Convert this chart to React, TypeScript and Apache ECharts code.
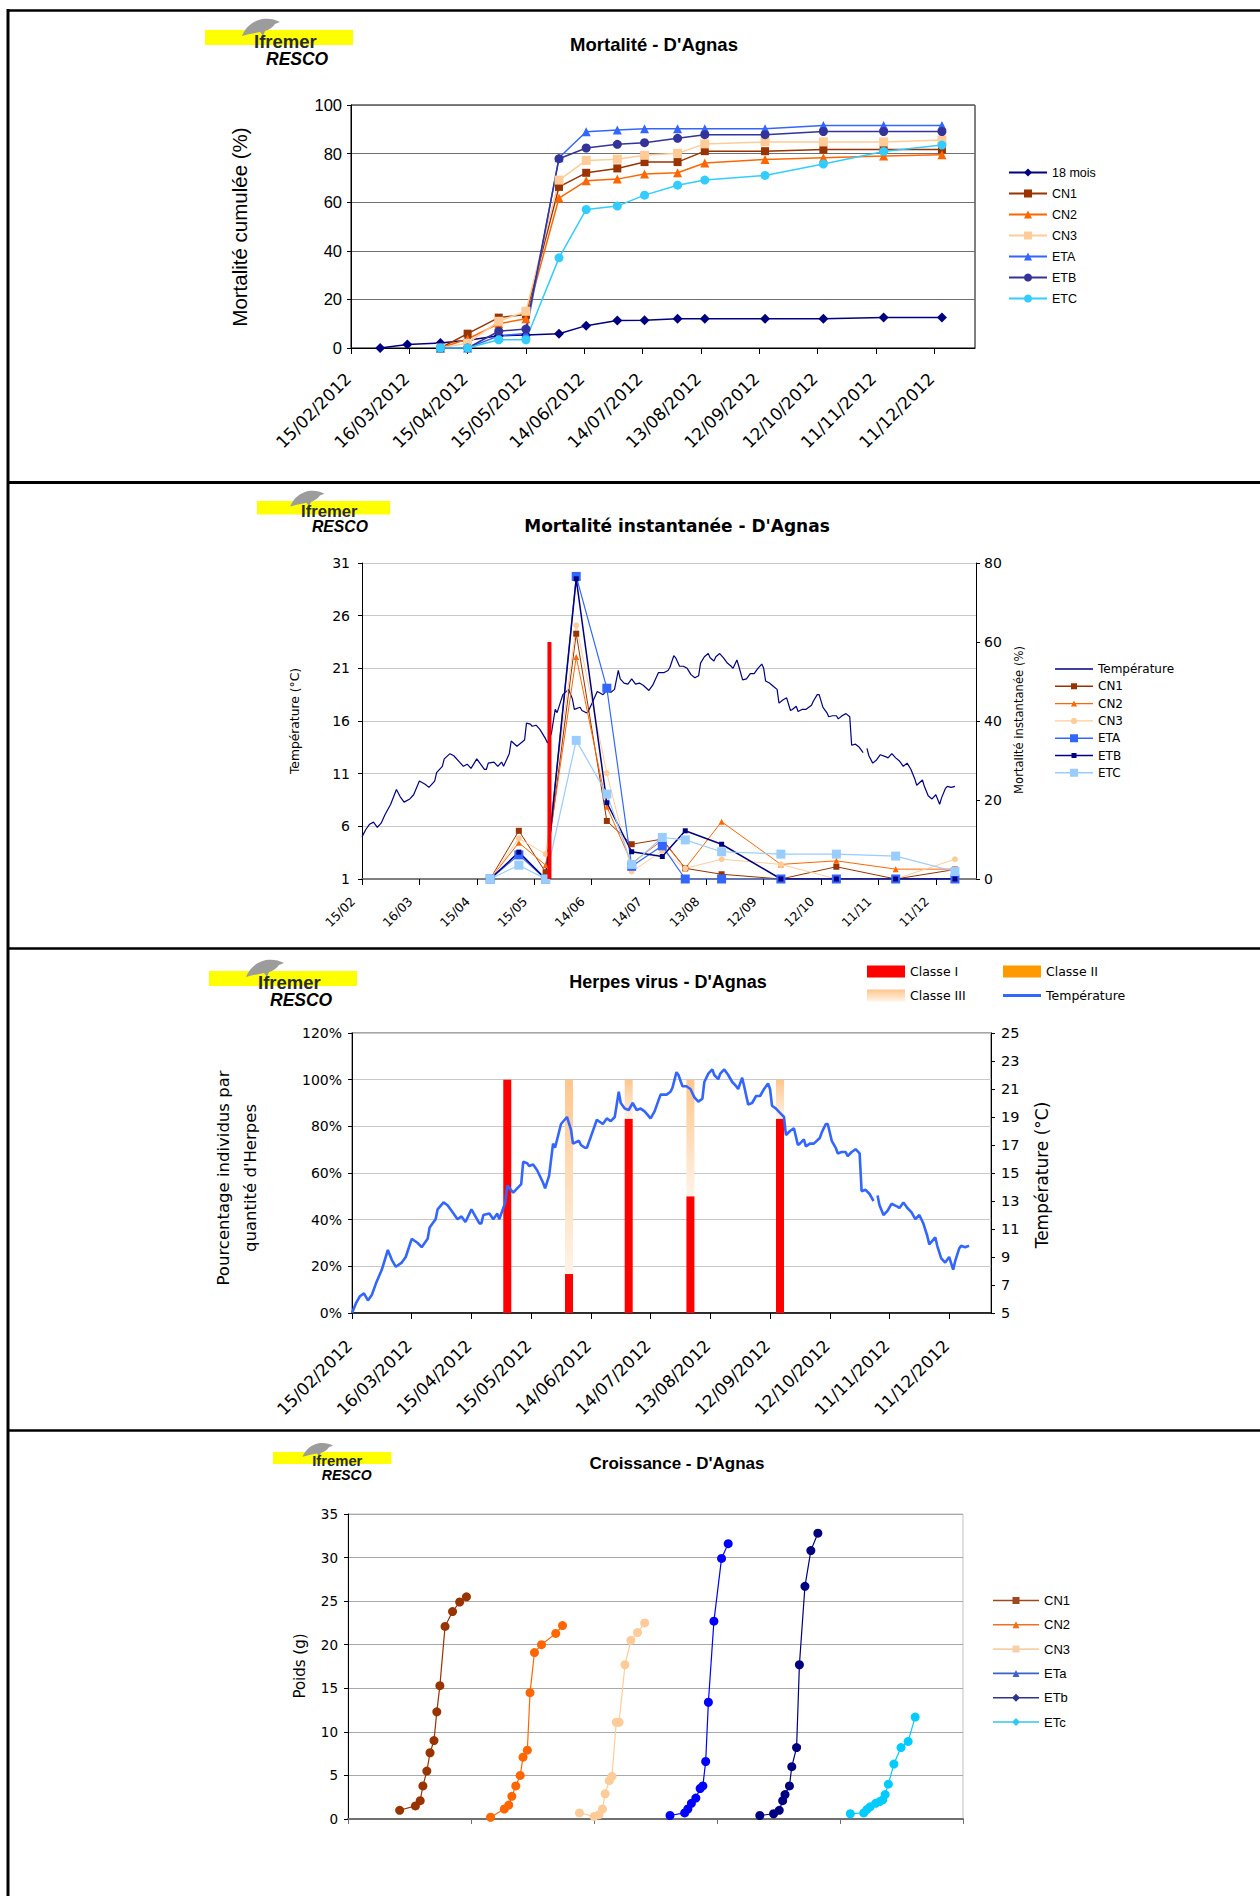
import { useEffect, useRef } from 'react';
import * as echarts from 'echarts';

// ---------------- data ----------------
// Panel 1 : mortalité cumulée (%)
const cumDates18 = ['01/03/2012', '15/03/2012', '01/04/2012', '15/04/2012', '01/05/2012', '15/05/2012', '01/06/2012', '15/06/2012', '01/07/2012', '15/07/2012', '01/08/2012', '15/08/2012', '15/09/2012', '15/10/2012', '15/11/2012', '15/12/2012'];
const cumDates = ['01/04/2012', '15/04/2012', '01/05/2012', '15/05/2012', '01/06/2012', '15/06/2012', '01/07/2012', '15/07/2012', '01/08/2012', '15/08/2012', '15/09/2012', '15/10/2012', '15/11/2012', '15/12/2012'];
const cum18mois = [0, 1.4, 2.1, 3.2, 5.0, 5.4, 5.9, 9.2, 11.3, 11.4, 12.0, 12.0, 12.0, 12.0, 12.6, 12.6];
const cumCN1 = [0, 5.9, 12.5, 13.8, 66.3, 72.1, 73.9, 76.5, 76.5, 81.0, 81.0, 81.7, 81.7, 81.7];
const cumCN2 = [0, 3.7, 10.0, 12.0, 61.7, 68.8, 69.5, 71.6, 72.1, 76.1, 77.6, 78.3, 79.0, 79.5];
const cumCN3 = [0, 2.0, 11.0, 15.1, 69.1, 77.2, 77.7, 79.3, 80.1, 84.0, 84.8, 84.8, 84.8, 85.6];
const cumETA = [0, 0, 5.0, 6.0, 78.3, 89.0, 89.7, 90.2, 90.2, 90.2, 90.2, 91.6, 91.6, 91.6];
const cumETB = [0, 0, 6.9, 7.8, 77.9, 82.3, 83.8, 84.5, 86.3, 87.8, 87.8, 89.1, 89.1, 89.1];
const cumETC = [0, 0, 3.4, 3.4, 37.1, 57.0, 58.4, 62.9, 67.0, 69.1, 71.0, 75.7, 80.9, 83.5];

// Panel 2 : mortalité instantanée (%)
const instDates = ['22/04/2012', '07/05/2012', '21/05/2012', '06/06/2012', '22/06/2012', '05/07/2012', '21/07/2012', '02/08/2012', '21/08/2012', '21/09/2012', '20/10/2012', '20/11/2012', '21/12/2012'];
const instCN1 = [0, 12.2, 1.7, 62.1, 14.7, 8.8, 10.1, 2.7, 1.2, 0, 3.1, 0, 2.4];
const instCN2 = [0, 9.2, 3.5, 56.2, 18.3, 4.0, 9.8, 2.7, 14.5, 3.7, 4.6, 2.5, 2.5];
const instCN3 = [0, 10.3, 6.3, 64.2, 26.8, 1.9, 7.1, 2.7, 5.0, 3.7, 0, 0, 5.0];
const instETA = [0, 6.1, 0, 76.6, 48.3, 3.2, 8.4, 0, 0, 0, 0, 0, 0];
const instETB = [0, 6.8, 0, 76.0, 19.3, 6.9, 5.7, 12.2, 8.8, 0, 0, 0, 0];
const instETC = [0, 3.5, 0, 35.1, 21.5, 3.7, 10.5, 9.9, 6.9, 6.3, 6.3, 5.8, 1.9];
const alertDates = ['23/05/2012'];
const alertValues = [60];

// Temperature (°C), day offsets from 15/02/2012
const tempDays = [0, 2, 4, 6, 8, 10, 12, 15, 18, 20, 22, 25, 27, 30, 33, 35, 38, 39, 42, 43, 46, 48, 51, 53, 55, 57, 60, 62, 64, 65, 66, 69, 71, 73, 74, 77, 78, 81, 85, 86, 88, 89, 91, 93, 96, 97, 99, 101, 102, 105, 108, 110, 111, 114, 115, 117, 118, 120, 123, 124, 126, 128, 130, 132, 134, 135, 137, 139, 141, 143, 145, 147, 150, 152, 155, 158, 160, 161, 163, 164, 166, 168, 170, 172, 174, 176, 177, 179, 181, 182, 184, 185, 187, 189, 191, 193, 194, 196, 197, 199, 201, 203, 205, 207, 209, 210, 211, 213, 215, 217, 218, 220, 222, 224, 225, 227, 228, 230, 232, 235, 236, 238, 239, 241, 243, 244, 246, 248, 249, 251, 253, 255, 256, 258, 260, 262, 263, 264, 265, 267, 269, 271, 274, 275, 277, 279, 281, 283, 285, 287, 289, 290, 293, 294, 296, 298, 300, 302, 303, 305, 306, 308, 310];
const tempValues = [5.0, 5.7, 6.2, 6.4, 5.9, 6.3, 7.1, 8.1, 9.5, 8.8, 8.3, 8.6, 9.0, 10.3, 10.0, 9.7, 10.3, 11.1, 11.7, 12.4, 12.9, 12.7, 12.1, 11.7, 11.9, 11.5, 12.4, 11.9, 11.4, 11.4, 12.0, 12.1, 11.7, 12.1, 11.7, 12.9, 14.1, 13.6, 14.2, 15.8, 15.7, 15.5, 15.6, 15.2, 14.3, 13.9, 14.8, 17.1, 16.8, 18.5, 19.0, 18.1, 17.1, 17.3, 17.0, 16.8, 16.8, 17.6, 18.8, 18.7, 18.5, 18.9, 18.7, 19.0, 20.8, 20.0, 19.6, 19.5, 20.0, 19.5, 19.6, 19.4, 18.9, 19.4, 20.6, 20.6, 20.8, 21.1, 22.2, 22.0, 21.2, 21.2, 21.0, 20.4, 20.1, 20.3, 21.5, 22.1, 22.4, 22.0, 21.7, 22.1, 22.4, 22.0, 21.5, 21.2, 21.0, 21.8, 21.2, 19.9, 20.0, 20.5, 20.5, 21.0, 21.4, 21.0, 19.8, 19.6, 19.3, 19.0, 17.7, 18.0, 18.2, 17.0, 17.1, 17.4, 16.9, 17.1, 17.1, 17.5, 17.9, 18.5, 18.5, 17.3, 16.8, 16.4, 16.5, 16.5, 16.2, 16.5, 16.7, 16.4, 13.7, 13.8, 13.5, 13.0, null, 13.4, 12.7, 12.0, 12.3, 12.8, 12.6, 12.5, 12.9, 12.5, 12.2, 11.7, 12.0, 11.4, 10.5, 9.9, 10.4, 9.8, 8.9, 8.6, 9.0, 8.1, 8.7, 9.6, 9.8, 9.7, 9.8];

// Panel 3 : herpes (% individus)
const herpesDates = ['03/05/2012', '03/06/2012', '03/07/2012', '03/08/2012', '17/09/2012'];
const classeI = [100, 16.7, 83.3, 50, 83.3];
const classeII = [0, 0, 0, 0, 0];
const classeIII = [0, 83.3, 16.7, 50, 16.7];

// Panel 4 : croissance (poids g)
const grCN1x = [0.42, 0.548, 0.587, 0.609, 0.641, 0.667, 0.699, 0.722, 0.747, 0.789, 0.85, 0.908, 0.963];
const grCN1y = [1.0, 1.5, 2.1, 3.8, 5.5, 7.6, 9.0, 12.3, 15.3, 22.1, 23.8, 24.9, 25.5];
const grCN2x = [1.159, 1.271, 1.307, 1.332, 1.364, 1.4, 1.423, 1.458, 1.48, 1.516, 1.573, 1.689, 1.744];
const grCN2y = [0.2, 1.15, 1.6, 2.6, 3.8, 5.0, 7.1, 7.9, 14.5, 19.1, 20.0, 21.3, 22.2];
const grCN3x = [1.882, 2.001, 2.04, 2.069, 2.091, 2.124, 2.146, 2.181, 2.204, 2.252, 2.3, 2.354, 2.412];
const grCN3y = [0.7, 0.3, 0.5, 1.15, 2.9, 4.4, 4.9, 11.1, 11.1, 17.7, 20.5, 21.4, 22.5];
const grETax = [2.618, 2.737, 2.763, 2.792, 2.828, 2.863, 2.885, 2.908, 2.93, 2.975, 3.037, 3.091];
const grETay = [0.4, 0.7, 1.15, 1.8, 2.4, 3.5, 3.8, 6.6, 13.4, 22.7, 29.9, 31.6];
const grETbx = [3.348, 3.46, 3.506, 3.534, 3.553, 3.589, 3.608, 3.647, 3.67, 3.715, 3.763, 3.82];
const grETby = [0.4, 0.6, 1.0, 2.1, 2.8, 3.8, 6.0, 8.2, 17.7, 26.7, 30.8, 32.8];
const grETcx = [4.084, 4.193, 4.219, 4.245, 4.29, 4.322, 4.348, 4.367, 4.393, 4.438, 4.496, 4.554, 4.611];
const grETcy = [0.6, 0.7, 1.1, 1.4, 1.8, 2.0, 2.2, 2.8, 4.0, 6.3, 8.2, 8.9, 11.7];

// ---------------- helpers ----------------
const START = Date.UTC(2012, 1, 15);
const DAY = 86400000;
function dayOf(s: string) {
  const [d, m, y] = s.split('/').map(Number);
  return Math.round((Date.UTC(y, m - 1, d) - START) / DAY);
}
function fmtDate(v: number, withYear: boolean) {
  const dt = new Date(START + v * DAY);
  const dd = String(dt.getUTCDate()).padStart(2, '0');
  const mm = String(dt.getUTCMonth() + 1).padStart(2, '0');
  return withYear ? `${dd}/${mm}/${dt.getUTCFullYear()}` : `${dd}/${mm}`;
}
const pairs = (dates: string[], vals: number[]) => dates.map((d, i) => [dayOf(d), vals[i]]);
// value first, date second (so that stacking is done on the value dimension)
const pairsVY = (dates: string[], vals: number[]) => dates.map((d, i) => [vals[i], dayOf(d)]);
const xy = (xs: number[], ys: number[]) => xs.map((x, i) => [x, ys[i]]);
const tempData = tempDays.map((d, i) => [d, tempValues[i] == null ? '-' : tempValues[i]]);

const AR = 'Liberation Sans, Arial, Helvetica, sans-serif';
const DJ = 'DejaVu Sans, Verdana, sans-serif';

function legendIcon(marker: string, s: number, lw: number, W = 38, H = 10) {
  const c = H / 2;
  const m = W / 2;
  let p = `path://M0,0L0.01,0L0,0.01Z M${W},${H}L${W - 0.01},${H}L${W},${H - 0.01}Z M0,${c - lw / 2}H${W}V${c + lw / 2}H0Z`;
  const h = s / 2;
  if (marker === 'square') p += ` M${m - h},${c - h}H${m + h}V${c + h}H${m - h}Z`;
  if (marker === 'tri') p += ` M${m},${c - h}L${m + h},${c + h}L${m - h},${c + h}Z`;
  if (marker === 'diamond') p += ` M${m},${c - h}L${m + h},${c}L${m},${c + h}L${m - h},${c}Z`;
  if (marker === 'circle') {
    const k = h * 0.414;
    p += ` M${m - k},${c - h}L${m + k},${c - h}L${m + h},${c - k}L${m + h},${c + k}L${m + k},${c + h}L${m - k},${c + h}L${m - h},${c + k}L${m - h},${c - k}Z`;
  }
  return p;
}

const DOLPHIN = 'M37,6 C40,-2 47,-9 57,-11 C63,-12 70,-11 75,-8 L70,-6 C68,-3 64,0 60,1 L58,6 L55,2 C50,3 44,4 37,6 Z';
let registered = false;
function ensureShape() {
  if (registered) return;
  registered = true;
  echarts.graphic.registerShape('dolphin', echarts.graphic.extendPath(DOLPHIN, {}));
}

function logo(ox: number, oy: number, s: number): any[] {
  return [
    { type: 'rect', shape: { x: ox, y: oy, width: 148 * s, height: 15 * s }, style: { fill: '#FFFF00' }, z: 10 },
    { type: 'dolphin', x: ox, y: oy, scaleX: s, scaleY: s, style: { fill: '#9C9C9C' }, z: 11 },
    { type: 'text', x: ox + 49 * s, y: oy + 11.5 * s, z: 12, style: { text: 'Ifremer', font: `bold ${18.5 * s}px ${AR}`, fill: '#2a2a2a', align: 'left', verticalAlign: 'middle', textAlign: 'left', textVerticalAlign: 'middle' } },
    { type: 'text', x: ox + 61 * s, y: oy + 28.5 * s, z: 12, style: { text: 'RESCO', font: `italic bold ${17.5 * s}px ${AR}`, fill: '#000000', align: 'left', verticalAlign: 'middle', textAlign: 'left', textVerticalAlign: 'middle' } },
  ];
}
function txt(text: string, x: number, y: number, font: string, rotate = 0): any {
  return { type: 'text', x, y, rotation: rotate, z: 12, style: { text, font, fill: '#000', align: 'center', verticalAlign: 'middle', textAlign: 'center', textVerticalAlign: 'middle' } };
}
function hline(y: number, w: number): any {
  return { type: 'line', shape: { x1: 7, y1: y, x2: 1260, y2: y }, style: { stroke: '#000', lineWidth: w }, z: 20 };
}

const black = { color: '#000' };

function buildOption(): any {
  const dateAxis = (grid: number, withYear: boolean, fontSize: number, margin: number, lineColor: string, lineWidth: number, padRight = 0) => ({
    type: 'value', gridIndex: grid, min: 0, max: 321, interval: 30,
    axisLine: { show: true, onZero: false, lineStyle: { color: lineColor, width: lineWidth } },
    axisTick: { show: true, length: 6, lineStyle: black },
    splitLine: { show: false },
    axisLabel: {
      rotate: 45, margin, fontSize, fontFamily: DJ, color: '#000', showMaxLabel: false,
      padding: [0, padRight, 0, 0],
      formatter: (v: number) => (v % 30 === 0 ? fmtDate(v, withYear) : ''),
    },
  });
  const valAxis = (grid: number, min: number, max: number, interval: number, font: number, fam: string, margin: number, split: string | null, extra: any = {}) => ({
    type: 'value', gridIndex: grid, min, max, interval,
    axisLine: { show: true, onZero: false, lineStyle: { color: '#000', width: 1 } },
    axisTick: { show: true, length: 4, lineStyle: black },
    axisLabel: { fontSize: font, fontFamily: fam, color: '#000', margin },
    splitLine: split ? { show: true, lineStyle: { color: split, width: 1 } } : { show: false },
    ...extra,
  });

  const cumLine = (name: string, dates: string[], vals: number[], color: string, symbol: string, size: number) => ({
    type: 'line', name, xAxisIndex: 0, yAxisIndex: 0, data: pairs(dates, vals), symbol, symbolSize: size,
    lineStyle: { color, width: 1.5 }, itemStyle: { color }, z: 3,
  });
  const instLine = (name: string, vals: number[], color: string, symbol: string, size: number, lw: number, z = 3) => ({
    type: 'line', name, xAxisIndex: 1, yAxisIndex: 2, data: pairs(instDates, vals), symbol, symbolSize: size,
    lineStyle: { color, width: lw }, itemStyle: { color }, z,
  });
  const grLine = (name: string, xs: number[], ys: number[], color: string) => ({
    type: 'line', name, xAxisIndex: 3, yAxisIndex: 5, data: xy(xs, ys), symbol: 'circle', symbolSize: 9,
    lineStyle: { color, width: 1.2 }, itemStyle: { color }, z: 3,
  });
  const herpesBar = (name: string, vals: number[], color: any) => ({
    type: 'bar', name, xAxisIndex: 2, yAxisIndex: 3, stack: 'herpes', barWidth: 8,
    encode: { x: 1, y: 0 }, data: pairsVY(herpesDates, vals), itemStyle: { color }, z: 2,
  });
  const gradIII = new echarts.graphic.LinearGradient(0, 0, 0, 1, [
    { offset: 0, color: '#FFC68C' },
    { offset: 1, color: '#FFF3E8' },
  ]);

  const leg2 = (name: string, marker: string, s: number, color: string) => ({
    name, icon: legendIcon(marker, s, 1.4), itemStyle: { color, borderWidth: 0 },
  });
  const leg3Text = { fontSize: 12.5, fontFamily: DJ, color: '#000' };

  return {
    animation: false,
    backgroundColor: '#fff',
    grid: [
      { left: 351, top: 105, width: 624, height: 243, show: true, borderColor: '#000', borderWidth: 1, outerBoundsMode: 'none' },
      { left: 362, top: 563, width: 614, height: 316, outerBoundsMode: 'none' },
      { left: 352, top: 1033, width: 639, height: 280, show: true, borderColor: '#8a8a8a', borderWidth: 1.5, outerBoundsMode: 'none' },
      { left: 348, top: 1514, width: 615, height: 305, show: true, borderColor: '#c0c0c0', borderWidth: 1, outerBoundsMode: 'none' },
    ],
    xAxis: [
      dateAxis(0, true, 17, 25, '#000', 1, 4),
      dateAxis(1, false, 12.5, 11, '#808080', 2, 13),
      dateAxis(2, true, 17, 27, '#000', 1.5, 4),
      {
        type: 'value', gridIndex: 3, min: 0, max: 5, interval: 1,
        axisLine: { show: true, onZero: false, lineStyle: { color: '#707070', width: 2 } },
        axisTick: { show: true, length: 5, lineStyle: { color: '#707070' } },
        axisLabel: { show: false }, splitLine: { show: false },
      },
    ],
    yAxis: [
      valAxis(0, 0, 100, 20, 16.5, AR, 9, '#707070'),
      valAxis(1, 1, 31, 5, 14, DJ, 12, '#c8c8c8'),
      valAxis(1, 0, 80, 20, 14, DJ, 8, null, { position: 'right' }),
      valAxis(2, 0, 120, 20, 14, DJ, 10, '#c8c8c8', { axisLabel: { fontSize: 14, fontFamily: DJ, color: '#000', margin: 10, formatter: '{value}%' } }),
      valAxis(2, 5, 25, 2, 14.5, DJ, 10, null, { position: 'right' }),
      valAxis(3, 0, 35, 5, 13.5, DJ, 10, '#a8a8a8'),
    ],
    legend: [
      {
        orient: 'vertical', left: 1003, top: 161, itemWidth: 38, itemHeight: 10, itemGap: 8, selectedMode: false,
        data: ['18 mois', 'CN1', 'CN2', 'CN3', 'ETA', 'ETB', 'ETC'],
        textStyle: { fontSize: 12.5, fontFamily: AR, color: '#000' },
      },
      {
        orient: 'vertical', left: 1050, top: 658, itemWidth: 38, itemHeight: 10, itemGap: 5.3, selectedMode: false,
        data: [
          leg2('Température', 'none', 0, '#000080'),
          leg2('CN1', 'square', 6, '#993300'),
          leg2('CN2', 'tri', 6, '#FF6600'),
          leg2('CN3', 'circle', 6, '#FFCC99'),
          leg2('ETA', 'square', 8, '#3366FF'),
          leg2('ETB', 'square', 5, '#000080'),
          leg2('ETC', 'square', 8, '#99CCFF'),
        ],
        textStyle: { fontSize: 12, fontFamily: DJ, color: '#000' },
      },
      { left: 862, top: 960, itemWidth: 38, itemHeight: 12, selectedMode: false, data: [{ name: 'Classe I', icon: 'rect' }], textStyle: leg3Text },
      { left: 998, top: 960, itemWidth: 38, itemHeight: 12, selectedMode: false, data: [{ name: 'Classe II', icon: 'rect' }], textStyle: leg3Text },
      { left: 862, top: 984, itemWidth: 38, itemHeight: 12, selectedMode: false, data: [{ name: 'Classe III', icon: 'rect' }], textStyle: leg3Text },
      {
        left: 998, top: 984, itemWidth: 38, itemHeight: 12, selectedMode: false,
        data: [{ name: 'Température', icon: legendIcon('none', 0, 3, 38, 12), itemStyle: { color: '#3366FF', borderWidth: 0 } }],
        textStyle: leg3Text,
      },
      {
        orient: 'vertical', left: 988, top: 1589, itemWidth: 46, itemHeight: 10, itemGap: 11.3, selectedMode: false,
        data: [
          { name: 'CN1', icon: legendIcon('square', 7, 1.6, 46, 10), itemStyle: { color: '#9E4A1E', borderWidth: 0 } },
          { name: 'CN2', icon: legendIcon('tri', 7, 1.6, 46, 10), itemStyle: { color: '#F07020', borderWidth: 0 } },
          { name: 'CN3', icon: legendIcon('square', 7, 1.6, 46, 10), itemStyle: { color: '#F8D0A8', borderWidth: 0 } },
          { name: 'ETa', icon: legendIcon('tri', 7, 1.6, 46, 10), itemStyle: { color: '#3D62C8', borderWidth: 0 } },
          { name: 'ETb', icon: legendIcon('diamond', 8, 1.6, 46, 10), itemStyle: { color: '#2E3588', borderWidth: 0 } },
          { name: 'ETc', icon: legendIcon('diamond', 8, 1.6, 46, 10), itemStyle: { color: '#33C8F0', borderWidth: 0 } },
        ],
        textStyle: { fontSize: 13, fontFamily: AR, color: '#000' },
      },
    ],
    series: [
      // panel 1
      cumLine('18 mois', cumDates18, cum18mois, '#000080', 'diamond', 10),
      cumLine('CN1', cumDates, cumCN1, '#993300', 'rect', 8),
      cumLine('CN2', cumDates, cumCN2, '#FF6600', 'triangle', 9),
      cumLine('CN3', cumDates, cumCN3, '#FFCC99', 'rect', 9),
      cumLine('ETA', cumDates, cumETA, '#3366FF', 'triangle', 9),
      cumLine('ETB', cumDates, cumETB, '#333399', 'circle', 9),
      cumLine('ETC', cumDates, cumETC, '#33CCFF', 'circle', 9),
      // panel 2
      {
        type: 'line', name: 'Température', xAxisIndex: 1, yAxisIndex: 1, data: tempData, symbol: 'none',
        lineStyle: { color: '#000080', width: 1.2 }, itemStyle: { color: '#000080' }, z: 2,
      },
      instLine('CN1', instCN1, '#993300', 'rect', 6, 1),
      instLine('CN2', instCN2, '#FF6600', 'triangle', 6, 1),
      instLine('CN3', instCN3, '#FFCC99', 'circle', 6, 1),
      instLine('ETA', instETA, '#3366FF', 'rect', 9, 1.2),
      instLine('ETB', instETB, '#000080', 'rect', 5, 1.5),
      instLine('ETC', instETC, '#99CCFF', 'rect', 9, 1.2),
      {
        type: 'bar', name: 'Alerte herpès', xAxisIndex: 1, yAxisIndex: 2, data: pairs(alertDates, alertValues), barWidth: 4,
        itemStyle: { color: '#FF0000' }, z: 5,
      },
      // panel 3
      herpesBar('Classe I', classeI, '#FF0000'),
      herpesBar('Classe II', classeII, '#FF9900'),
      herpesBar('Classe III', classeIII, gradIII),
      {
        type: 'line', name: 'Température', xAxisIndex: 2, yAxisIndex: 4, data: tempData, symbol: 'none',
        lineStyle: { color: '#3366FF', width: 2.6 }, itemStyle: { color: '#3366FF' }, z: 5,
      },
      // panel 4
      grLine('CN1', grCN1x, grCN1y, '#993300'),
      grLine('CN2', grCN2x, grCN2y, '#FF6600'),
      grLine('CN3', grCN3x, grCN3y, '#FFCC99'),
      grLine('ETa', grETax, grETay, '#0000FF'),
      grLine('ETb', grETbx, grETby, '#000080'),
      grLine('ETc', grETcx, grETcy, '#00CCFF'),
    ],
    graphic: {
      elements: [
        { type: 'line', shape: { x1: 8, y1: 9, x2: 8, y2: 1896 }, style: { stroke: '#000', lineWidth: 3 }, z: 20 },
        hline(10.5, 2.5),
        hline(482.5, 3),
        hline(948.5, 2.5),
        hline(1430.5, 2.5),
        ...logo(205, 30, 1),
        ...logo(257, 501, 0.9),
        ...logo(209, 971, 1),
        ...logo(273, 1452, 0.8),
        txt('Mortalité - D\'Agnas', 654, 44, `bold 18.5px ${AR}`),
        txt('Mortalité instantanée - D\'Agnas', 677, 526, `bold 17px ${DJ}`),
        txt('Herpes virus - D\'Agnas', 668, 982, `bold 18px ${AR}`),
        txt('Croissance - D\'Agnas', 677, 1463, `bold 17px ${AR}`),
        txt('Mortalité cumulée (%)', 239, 227, `20.5px ${AR}`, Math.PI / 2),
        txt('Température (°C)', 295, 721, `12.3px ${DJ}`, Math.PI / 2),
        txt('Mortalité instantanée (%)', 1019, 720, `11.6px ${DJ}`, Math.PI / 2),
        txt('Pourcentage individus par', 223, 1178, `16.5px ${DJ}`, Math.PI / 2),
        txt('quantité d\'Herpes', 250, 1178, `16.5px ${DJ}`, Math.PI / 2),
        txt('Température (°C)', 1042, 1175, `17px ${DJ}`, Math.PI / 2),
        txt('Poids (g)', 300, 1666, `15px ${DJ}`, Math.PI / 2),
      ],
    },
  };
}

export default function App() {
  const ref = useRef<HTMLDivElement>(null);
  useEffect(() => {
    if (!ref.current) return;
    ensureShape();
    const chart = echarts.init(ref.current, undefined, { renderer: 'svg' });
    chart.setOption(buildOption());
    return () => chart.dispose();
  }, []);
  return <div ref={ref} style={{ position: 'absolute', left: 0, top: 0, width: 1260, height: 1896, background: '#fff' }} />;
}
